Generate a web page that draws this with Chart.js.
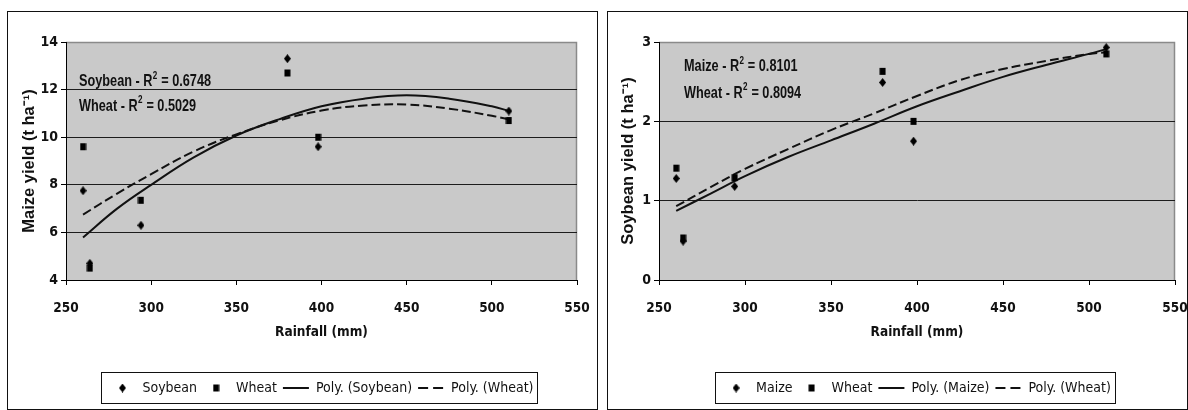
<!DOCTYPE html>
<html lang="en">
<head>
  <meta charset="UTF-8" />
  <title>Yield vs Rainfall</title>
  <script src="https://cdn.jsdelivr.net/npm/chart.js"></script>
  <style>
    body { margin: 0; background: #fff; }
    .panel { position: absolute; top: 11px; height: 399px; border: 1px solid #111; box-sizing: border-box; }
    #leftPanel { left: 7px; width: 591px; }
    #rightPanel { left: 607px; width: 581px; }
    canvas { display: block; }
  </style>
</head>
<body>
  <div class="panel" id="leftPanel"><canvas id="maizeChart" width="589" height="397"></canvas></div>
  <div class="panel" id="rightPanel"><canvas id="soyChart" width="579" height="397"></canvas></div>

  <script>
    // observed points (rainfall in mm)
    const rainfall = [260, 264, 294, 380, 398, 510];
    const maizeAfterSoybean = [7.75, 4.7, 6.3, 13.3, 9.6, 11.1];
    const maizeAfterWheat = [9.6, 4.5, 7.35, 12.7, 10.0, 10.7];
    const soyAfterMaize = [1.28, 0.49, 1.18, 2.49, 1.75, 2.93];
    const soyAfterWheat = [1.41, 0.53, 1.29, 2.63, 2.0, 2.85];

    // trend lines
    const trendRain = [260, 280, 300, 325, 350, 375, 400, 425, 450, 475, 500, 510];
    const maizeTrendSoybean = [5.79, 7.0, 8.0, 9.15, 10.07, 10.75, 11.3, 11.62, 11.76, 11.62, 11.3, 11.1];
    const maizeTrendWheat = [6.75, 7.63, 8.45, 9.4, 10.12, 10.7, 11.12, 11.33, 11.37, 11.2, 10.9, 10.75];
    const soyTrendMaize = [0.87, 1.09, 1.31, 1.55, 1.76, 1.97, 2.19, 2.38, 2.56, 2.71, 2.85, 2.91];
    const soyTrendWheat = [0.93, 1.17, 1.4, 1.65, 1.89, 2.1, 2.32, 2.52, 2.66, 2.76, 2.85, 2.87];

    const xTicks = [250, 300, 350, 400, 450, 500, 550];
    const maizeTicks = [4, 6, 8, 10, 12, 14];
    const soyTicks = [0, 1, 2, 3];

    const maizeFits = [['Soybean', '0.6748'], ['Wheat', '0.5029']];
    const soyFits = [['Maize', '0.8101'], ['Wheat', '0.8094']];

    const narrow = "'DejaVu Sans Condensed', sans-serif";
    const wide = "'Liberation Sans', Arial, sans-serif";
    Chart.defaults.font.family = narrow;
    Chart.defaults.color = '#111';

    function marker(kind) {
      const c = document.createElement('canvas');
      c.width = 7; c.height = 9;
      const g = c.getContext('2d');
      g.fillStyle = '#000';
      g.beginPath();
      if (kind === 'diamond') {
        g.moveTo(3.5, 0); g.lineTo(7, 4.5); g.lineTo(3.5, 9); g.lineTo(0, 4.5);
      } else {
        g.rect(0.5, 1, 6, 7);
      }
      g.fill();
      return c;
    }
    const diamond = marker('diamond');
    const square = marker('square');

    const pairs = (xs, ys) => xs.map((x, i) => ({ x: x, y: ys[i] }));

    const plotFrame = {
      id: 'plotFrame',
      beforeDraw(chart) {
        const { ctx, chartArea: a } = chart;
        ctx.save();
        ctx.fillStyle = '#c9c9c9';
        ctx.fillRect(a.left, a.top, a.width, a.height);
        ctx.strokeStyle = '#8a8a8a';
        ctx.lineWidth = 1.5;
        ctx.beginPath();
        ctx.moveTo(a.left, a.top + 0.5);
        ctx.lineTo(a.right - 0.5, a.top + 0.5);
        ctx.lineTo(a.right - 0.5, a.bottom);
        ctx.stroke();
        ctx.restore();
      }
    };

    // R² notes, Arial Narrow look: Liberation Sans squeezed horizontally
    const fitText = {
      id: 'fitText',
      afterDraw(chart, args, o) {
        const { ctx, chartArea: a } = chart;
        const squeeze = 0.77;
        ctx.save();
        ctx.fillStyle = '#111';
        ctx.textBaseline = 'alphabetic';
        o.lines.forEach(([name, r2], i) => {
          const y = a.top + o.dy + i * o.step;
          ctx.save();
          ctx.translate(a.left + o.dx, y);
          ctx.scale(squeeze, 1);
          let x = 0;
          ctx.font = 'bold 16.5px ' + wide;
          const head = name + ' - R';
          ctx.fillText(head, x, 0);
          x += ctx.measureText(head).width;
          ctx.font = 'bold 10.5px ' + wide;
          ctx.fillText('2', x + 0.5, -7.5);
          x += ctx.measureText('2').width + 1;
          ctx.font = 'bold 16.5px ' + wide;
          ctx.fillText(' = ' + r2, x, 0);
          ctx.restore();
        });
        ctx.restore();
      }
    };

    const legendBox = {
      id: 'legendBox',
      afterDraw(chart) {
        const boxes = chart.legend.legendHitBoxes;
        if (!boxes || !boxes.length) return;
        const l = Math.min(...boxes.map(b => b.left)) - 8;
        const r = Math.max(...boxes.map(b => b.left + b.width)) + 4;
        const t = boxes[0].top - 9;
        const h = boxes[0].height + 17;
        const ctx = chart.ctx;
        ctx.save();
        ctx.strokeStyle = '#111';
        ctx.lineWidth = 1;
        ctx.strokeRect(Math.round(l) + 0.5, Math.round(t) + 0.5, Math.round(r - l), Math.round(h));
        ctx.restore();
      }
    };

    function buildChart(id, cfg) {
      const yMax = cfg.yTicks[cfg.yTicks.length - 1];
      return new Chart(document.getElementById(id), {
        type: 'scatter',
        data: {
          datasets: [
            { label: cfg.names[0], data: pairs(rainfall, cfg.a), pointStyle: diamond, pointRadius: 4,
              backgroundColor: '#000', borderColor: '#000', showLine: false, legendStyle: diamond },
            { label: cfg.names[1], data: pairs(rainfall, cfg.b), pointStyle: square, pointRadius: 4,
              backgroundColor: '#000', borderColor: '#000', showLine: false, legendStyle: square },
            { label: 'Poly. (' + cfg.names[0] + ')', data: pairs(trendRain, cfg.fitA), showLine: true,
              pointRadius: 0, borderColor: '#111', borderWidth: 2, tension: 0.4, legendStyle: 'line' },
            { label: 'Poly. (' + cfg.names[1] + ')', data: pairs(trendRain, cfg.fitB), showLine: true,
              pointRadius: 0, borderColor: '#111', borderWidth: 2, borderDash: [9, 4], tension: 0.4,
              legendStyle: 'line', legendDash: [10, 5] }
          ]
        },
        options: {
          responsive: false,
          animation: false,
          layout: { padding: { top: 30, right: cfg.rightPad, left: 0, bottom: 4 } },
          scales: {
            x: {
              type: 'linear', min: xTicks[0], max: xTicks[xTicks.length - 1],
              ticks: { stepSize: 50, padding: 15, font: { size: 13.5, weight: 'bold' } },
              grid: { drawOnChartArea: false, tickLength: 5, tickColor: '#000' },
              border: { color: '#000' },
              title: { display: true, text: 'Rainfall (mm)', font: { size: 13.5, weight: 'bold' },
                       padding: { top: 0, bottom: 34 } },
              afterFit: s => { s.height = 95; s.paddingLeft = 0; s.paddingRight = 0; }
            },
            y: {
              min: cfg.yTicks[0], max: yMax,
              ticks: { stepSize: cfg.yTicks[1] - cfg.yTicks[0], padding: 3, font: { size: 14, weight: 'bold' } },
              grid: { color: c => (c.tick && c.tick.value === yMax) ? 'rgba(0,0,0,0)' : '#1c1c1c',
                      tickColor: '#000', tickLength: 5 },
              border: { color: '#000' },
              title: { display: true, text: cfg.yTitle, font: { family: wide, size: 16.5, weight: 'bold' },
                       padding: { top: cfg.titlePad, bottom: 0 } },
              afterFit: s => { s.width = cfg.axisWidth; }
            }
          },
          plugins: {
            tooltip: { enabled: false },
            legend: {
              position: 'bottom',
              fullSize: false,
              labels: {
                usePointStyle: true,
                pointStyleWidth: 26,
                boxHeight: 9,
                padding: 6,
                font: { size: 14 },
                generateLabels: chart => chart.data.datasets.map((ds, i) => ({
                  text: ds.label, datasetIndex: i, pointStyle: ds.legendStyle,
                  lineDash: ds.legendDash || [], lineWidth: 2, strokeStyle: '#111',
                  fillStyle: '#000', fontColor: '#111', hidden: false
                }))
              }
            },
            fitText: cfg.fitText
          }
        },
        plugins: [plotFrame, fitText, legendBox]
      });
    }

    buildChart('maizeChart', {
      names: ['Soybean', 'Wheat'],
      a: maizeAfterSoybean, b: maizeAfterWheat,
      fitA: maizeTrendSoybean, fitB: maizeTrendWheat,
      yTicks: maizeTicks, yTitle: 'Maize yield (t ha⁻¹)',
      axisWidth: 58, titlePad: 12, rightPad: 20,
      fitText: { lines: maizeFits, dx: 13, dy: 44, step: 24.5 }
    });

    buildChart('soyChart', {
      names: ['Maize', 'Wheat'],
      a: soyAfterMaize, b: soyAfterWheat,
      fitA: soyTrendMaize, fitB: soyTrendWheat,
      yTicks: soyTicks, yTitle: 'Soybean yield (t ha⁻¹)',
      axisWidth: 51, titlePad: 11, rightPad: 12,
      fitText: { lines: soyFits, dx: 25, dy: 29, step: 26.5 }
    });
  </script>
</body>
</html>
